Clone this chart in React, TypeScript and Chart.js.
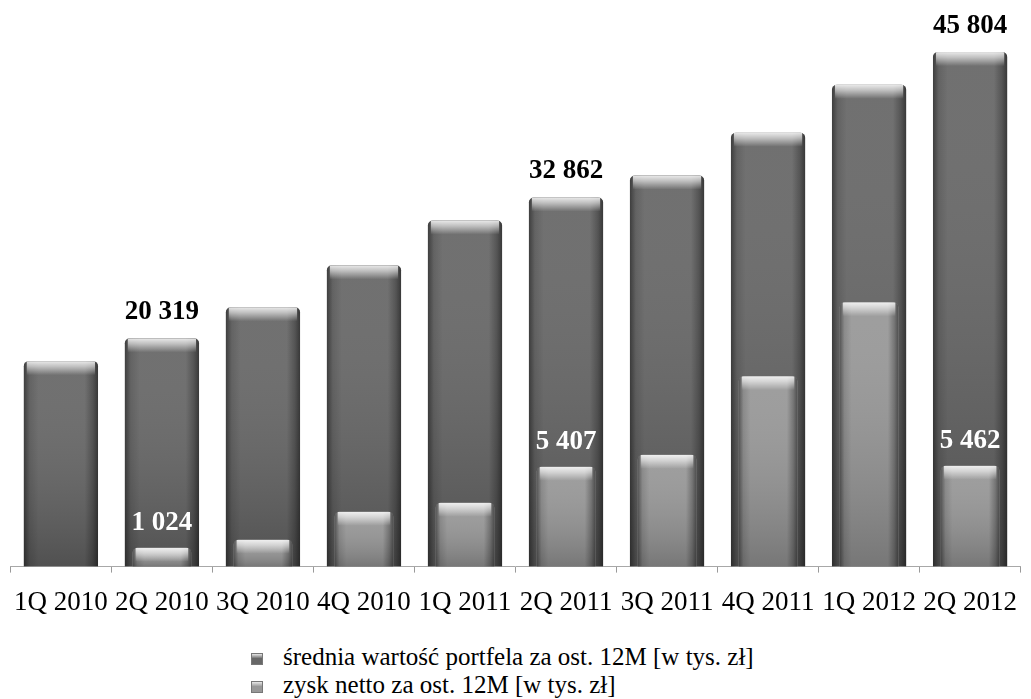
import React, { useEffect, useRef } from "react";
import { Chart, registerables } from "chart.js";

Chart.register(...registerables);

const categories = [
  "1Q 2010", "2Q 2010", "3Q 2010", "4Q 2010", "1Q 2011",
  "2Q 2011", "3Q 2011", "4Q 2011", "1Q 2012", "2Q 2012",
];
const portfolioValues = [18290, 20319, 23090, 26820, 30810, 32862, 34810, 38630, 42890, 45804];
const profitValues = [null, 1024, 1460, 2970, 3460, 5407, 6050, 10310, 14310, 5462];
const portfolioLabelIdx = [1, 5, 9];
const profitLabelIdx = [1, 5, 9];
const legendLabels = [
  "średnia wartość portfela za ost. 12M [w tys. zł]",
  "zysk netto za ost. 12M [w tys. zł]",
];

const fmt = (v: number) => String(v).replace(/\B(?=(\d{3})+(?!\d))/g, " ");
const SERIF = "'Liberation Serif', 'Times New Roman', serif";

const OUTER = "#676767";
const INNER = "#989898";

const shadePlugin = {
  id: "shade",
  afterDatasetDraw(chart: any, args: any) {
    const ctx = chart.ctx;
    const meta = args.meta;
    meta.data.forEach((bar: any) => {
      const p = bar.getProps(["x", "y", "base", "width"], true);
      if (!isFinite(p.y) || !isFinite(p.base)) return;
      const left = p.x - p.width / 2;
      const top = Math.min(p.y, p.base);
      const h = Math.abs(p.base - p.y);
      if (h <= 0) return;
      ctx.save();
      ctx.beginPath();
      ctx.roundRect(left, top, p.width, h, [5, 5, 0, 0]);
      ctx.clip();
      const gv = ctx.createLinearGradient(0, top, 0, top + h);
      gv.addColorStop(0, "rgba(255,255,255,0.06)");
      gv.addColorStop(1, "rgba(0,0,0,0.22)");
      ctx.fillStyle = gv;
      ctx.fillRect(left, top, p.width, h);
      const gh = ctx.createLinearGradient(left, 0, left + p.width, 0);
      gh.addColorStop(0, "rgba(0,0,0,0.45)");
      gh.addColorStop(0.08, "rgba(0,0,0,0.12)");
      gh.addColorStop(0.2, "rgba(0,0,0,0)");
      gh.addColorStop(0.82, "rgba(0,0,0,0)");
      gh.addColorStop(0.93, "rgba(0,0,0,0.25)");
      gh.addColorStop(1, "rgba(0,0,0,0.5)");
      ctx.fillStyle = gh;
      ctx.fillRect(left, top, p.width, h);
      const hl = Math.min(14, h);
      const gt = ctx.createLinearGradient(0, top, 0, top + hl);
      gt.addColorStop(0, "rgba(255,255,255,0.85)");
      gt.addColorStop(0.4, "rgba(255,255,255,0.55)");
      gt.addColorStop(1, "rgba(255,255,255,0)");
      ctx.fillStyle = gt;
      ctx.fillRect(left + 3, top, p.width - 6, hl);
      ctx.restore();
    });
  },
};

const labelPlugin = {
  id: "valueLabels",
  afterDatasetsDraw(chart: any) {
    const ctx = chart.ctx;
    ctx.save();
    ctx.font = `bold 27px ${SERIF}`;
    ctx.textAlign = "center";
    ctx.textBaseline = "alphabetic";
    const outer = chart.getDatasetMeta(1);
    ctx.fillStyle = "#000000";
    portfolioLabelIdx.forEach((i) => {
      const bar = outer.data[i];
      ctx.fillText(fmt(portfolioValues[i]), bar.x, bar.y - 19);
    });
    const inner = chart.getDatasetMeta(0);
    ctx.fillStyle = "#ffffff";
    profitLabelIdx.forEach((i) => {
      const bar = inner.data[i];
      const v = profitValues[i];
      if (v == null) return;
      ctx.fillText(fmt(v), bar.x, bar.y - 18);
    });
    ctx.restore();
  },
};

export default function App() {
  const ref = useRef<HTMLCanvasElement>(null);
  useEffect(() => {
    if (!ref.current) return;
    const chart = new Chart(ref.current, {
      type: "bar",
      data: {
        labels: categories,
        datasets: [
          {
            label: legendLabels[1],
            data: profitValues as any,
            yAxisID: "y2",
            backgroundColor: INNER,
            borderWidth: 0,
            borderRadius: { topLeft: 5, topRight: 5, bottomLeft: 0, bottomRight: 0 },
            borderSkipped: false,
            barPercentage: 0.58,
            categoryPercentage: 1,
            grouped: false,
            order: 1,
          },
          {
            label: legendLabels[0],
            data: portfolioValues,
            yAxisID: "y",
            backgroundColor: OUTER,
            borderWidth: 0,
            borderRadius: { topLeft: 5, topRight: 5, bottomLeft: 0, bottomRight: 0 },
            borderSkipped: false,
            barPercentage: 0.735,
            categoryPercentage: 1,
            grouped: false,
            order: 2,
          },
        ],
      },
      options: {
        responsive: false,
        animation: false,
        layout: { padding: { left: 10, right: 1, top: 20, bottom: 2 } },
        plugins: {
          legend: { display: false },
          tooltip: { enabled: false },
        },
        scales: {
          x: {
            grid: {
              display: true,
              drawOnChartArea: false,
              drawTicks: true,
              tickLength: 6,
              color: "#9a9a9a",
              offset: true,
            },
            border: { display: true, color: "#a8a8a8" },
            ticks: {
              autoSkip: false,
              maxRotation: 0,
              padding: 14,
              color: "#000000",
              font: { family: SERIF, size: 27 },
            },
          },
          y: { display: false, min: 0, max: 48660, grid: { display: false } },
          y2: { display: false, min: 0, max: 29590, grid: { display: false } },
        },
      },
      plugins: [shadePlugin, labelPlugin],
    });
    return () => chart.destroy();
  }, []);

  const iconStyle = (c: string): React.CSSProperties => ({
    display: "inline-block",
    width: 12,
    height: 12,
    background: `linear-gradient(180deg, #e8e8e8 0%, ${c} 45%, ${c} 100%)`,
    border: "1px solid #777",
    marginRight: 20,
    verticalAlign: "middle",
    boxSizing: "border-box",
  });

  return (
    <div style={{ position: "absolute", left: 0, top: 0, width: 1031, height: 699, background: "#fff" }}>
      <canvas ref={ref} width={1031} height={635} style={{ display: "block" }} />
      <div
        style={{
          position: "absolute",
          left: 251,
          top: 643,
          fontFamily: SERIF,
          fontSize: 25,
          lineHeight: "28px",
          color: "#000",
          whiteSpace: "nowrap",
        }}
      >
        <div><span style={iconStyle(OUTER)} />{legendLabels[0]}</div>
        <div><span style={iconStyle(INNER)} />{legendLabels[1]}</div>
      </div>
    </div>
  );
}
